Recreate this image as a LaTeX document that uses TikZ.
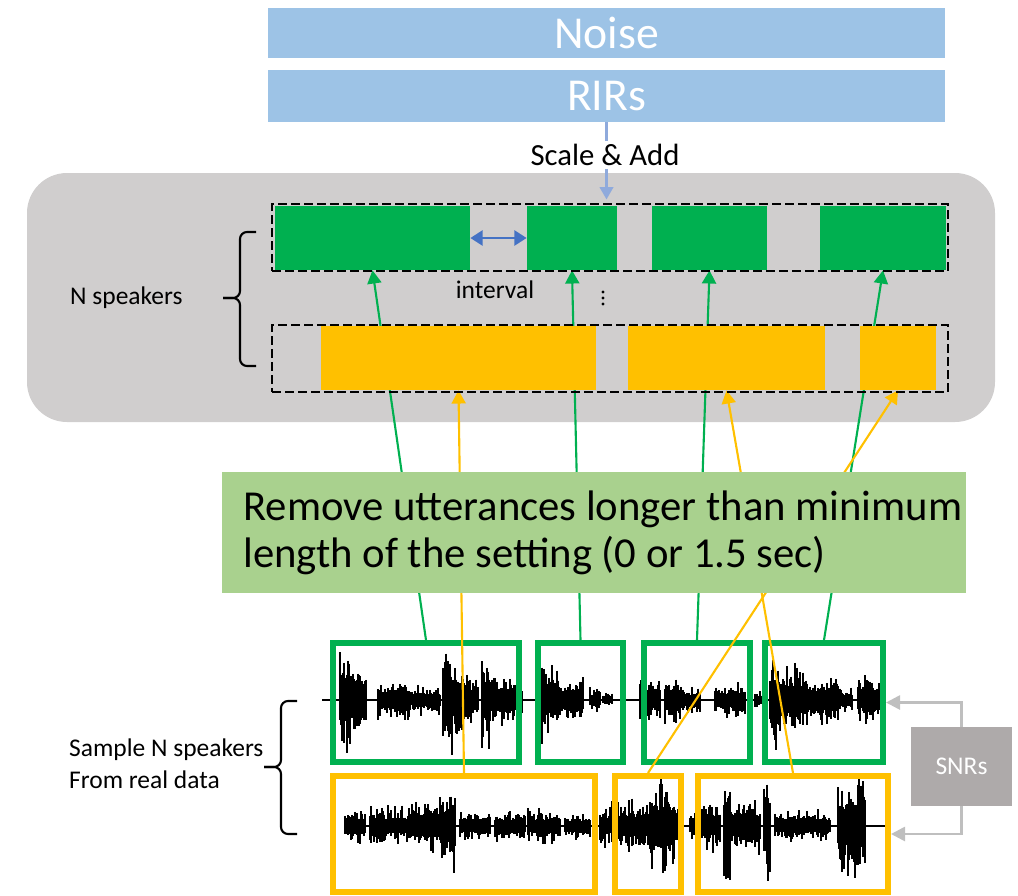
\documentclass[tikz,border=0pt]{standalone}
\usepackage{fontspec}
\setmainfont{Carlito}
\usetikzlibrary{arrows.meta,fit}
\definecolor{barblue}{HTML}{9DC3E6}
\definecolor{panel}{HTML}{D0CECE}
\definecolor{sgreen}{HTML}{00B050}
\definecolor{syellow}{HTML}{FFC000}
\definecolor{notegreen}{HTML}{A9D18E}
\definecolor{gapblue}{HTML}{4472C4}
\definecolor{mixblue}{HTML}{8FAADC}
\definecolor{snrgray}{HTML}{AEAAAA}
\definecolor{snrline}{HTML}{BFBFBF}
\begin{document}
\begin{tikzpicture}[x=0.02cm,y=-0.02cm,
  bar/.style={fill=barblue, inner sep=0, text=white, minimum width=13.54cm, font=\fontsize{26}{30}\selectfont},
  gblk/.style={fill=sgreen, inner sep=0},
  yblk/.style={fill=syellow, inner sep=0},
  dbox/.style={draw=black, dash pattern=on 5pt off 2.4pt, line width=1.1pt, inner sep=0},
  wgbox/.style={draw=sgreen, line width=3.4pt, inner sep=0},
  wybox/.style={draw=syellow, line width=3.4pt, inner sep=0},
  lbl/.style={font=\fontsize{14.5}{18}\selectfont},
  garr/.style={draw=sgreen, line width=1.2pt, -{Triangle[length=7.5pt,width=8pt]}},
  yarr/.style={draw=syellow, line width=1.2pt, -{Triangle[length=7.5pt,width=8pt]}},
  wave/.style={line width=0.6pt, black},
  curly/.style={draw=black, line width=1.2pt, rounded corners=4pt},
  snrarr/.style={draw=snrline, line width=1.5pt, -{Triangle[length=8pt,width=8pt]}},
  mixarr/.style={draw=mixblue, line width=1.6pt}
]
\useasboundingbox (0,0) rectangle (1018,896);

% noise and room impulse responses
\node (noise) [bar, minimum height=1cm] at (606.5,33) {Noise};
\node (rirs) [bar, minimum height=1.04cm] at (606.5,96) {RIRs};

% simulation panel
\node (panel) [fill=panel, rounded corners=0.8cm, inner sep=0, fit={(27,173) (995,422)}] {};

% sampled waveforms (deterministic pseudo-random envelopes)
\pgfmathsetseed{17}
\draw[wave] (322,700) -- (884,700);
\draw[wave] foreach \s/\e/\a in {340/347/65, 347/360/50, 360/366/30, 378/410/24, 412/440/16,
    443/452/60, 452/470/42, 470/478/26, 482/490/55, 490/522/28, 538/545/65, 545/560/36,
    560/583/28, 590/600/16, 603/612/10, 640/660/22, 665/680/28, 680/700/16, 715/745/20,
    755/762/10, 770/778/55, 778/800/40, 800/840/28, 840/852/16, 858/882/28}
  { foreach \x in {\s,...,\e} { (\x,{700-\a*(0.3+0.7*rnd*rnd)}) -- (\x,{700+\a*(0.3+0.7*rnd*rnd)}) } };
\draw[wave] (345,826) -- (885,826);
\draw[wave] foreach \s/\e/\a in {345/365/24, 370/410/22, 410/440/30, 440/450/46, 450/455/60,
    460/490/19, 495/525/17, 528/560/19, 565/590/16, 600/612/24, 612/650/30, 650/660/46,
    660/670/60, 672/678/40, 690/700/19, 700/720/30, 724/730/60, 730/760/30, 764/770/65,
    775/830/18, 838/848/55, 848/865/60}
  { foreach \x in {\s,...,\e} { (\x,{826-\a*(0.3+0.7*rnd*rnd)}) -- (\x,{826+\a*(0.3+0.7*rnd*rnd)}) } };

% boxes around the selected utterances
\node (wg1) [wgbox, fit={(333,643) (519,762)}] {};
\node (wg2) [wgbox, fit={(538,643) (623,762)}] {};
\node (wg3) [wgbox, fit={(644,643) (750,762)}] {};
\node (wg4) [wgbox, fit={(765,643) (883,762)}] {};
\node (wy1) [wybox, fit={(333,776) (595,892)}] {};
\node (wy2) [wybox, fit={(615,776) (681,892)}] {};
\node (wy3) [wybox, fit={(698,776) (888,892)}] {};

% segments placed on the two speaker tracks
\node (gb1) [gblk, fit={(275,206) (470,270)}] {};
\node (gb2) [gblk, fit={(527,206) (617,270)}] {};
\node (gb3) [gblk, fit={(652,206) (767,270)}] {};
\node (gb4) [gblk, fit={(820,206) (946,270)}] {};

% utterance-to-segment connectors (behind the yellow segments)
\draw[garr] (wg1.north) -- (gb1.south);
\draw[garr] (wg2.north) -- (gb2.south);
\draw[garr] (wg3.north) -- (gb3.south);
\draw[garr] (wg4.north) -- (gb4.south);

\node (yb1) [yblk, fit={(321,326) (596,390)}] {};
\node (yb2) [yblk, fit={(628,326) (825,390)}] {};
\node (yb3) [yblk, fit={(860,326) (936,390)}] {};

\draw[yarr] (wy1.north) -- (yb1.south);
\draw[yarr] (wy2.north) -- (yb3.south);
\draw[yarr] (wy3.north) -- (yb2.south);

\node (dup) [dbox, fit={(272,204) (948,271)}] {};
\node (dlo) [dbox, fit={(272,325) (948,392)}] {};

% silence interval between segments
\draw[draw=gapblue, line width=1.6pt, {Triangle[length=7pt,width=8.5pt]}-{Triangle[length=7pt,width=8.5pt]}] (gb1.east) -- (gb2.west);
\node (intv) [lbl] at (495,290) {interval};
\fill (603,292) circle (1.6) (603,298) circle (1.6) (603,304) circle (1.6);

% mixing noise and reverberation
\node (sa) [font=\fontsize{17.5}{20}\selectfont, inner sep=1.5pt] at (605,155) {Scale \& Add};
\draw[mixarr] (rirs.south) -- (sa.north -| rirs.south);
\draw[mixarr, -{Triangle[length=7pt,width=7.5pt]}, shorten >=2pt] (sa.south -| rirs.south) -- (rirs.south |- dup.north);

% speaker brace and label
\draw[curly] (256,232) -- (240,232) -- (240,298) -- (223,298);
\draw[curly] (223,298) -- (240,298) -- (240,366) -- (256,366);
\node (nspk) [lbl, anchor=west] at (64,298) {N speakers};

% filtering note
\node (note) [fill=notegreen, inner sep=0, fit={(222,472) (966,593)}] {};
\node (notetxt) [anchor=west, align=left, inner sep=0, font=\fontsize{24.3}{26.6}\selectfont] at (243,533)
  {Remove utterances longer than minimum\\length of the setting (0 or 1.5 sec)};

% sampling brace and label
\draw[curly] (297,701) -- (281,701) -- (281,767) -- (264,767);
\draw[curly] (264,767) -- (281,767) -- (281,834) -- (297,834);
\node (smp) [lbl, anchor=west, align=left] at (63,764) {Sample N speakers\\From real data};

% signal-to-noise ratios
\node (snr) [fill=snrgray, inner sep=0, minimum width=2.02cm, minimum height=1.58cm, text=white, font=\fontsize{14.5}{17}\selectfont] at (961.5,766.5) {SNRs};
\draw[snrarr] (snr.north) |- (wg4.east);
\draw[snrarr] (snr.south) |- (wy3.east);
\end{tikzpicture}
\end{document}
